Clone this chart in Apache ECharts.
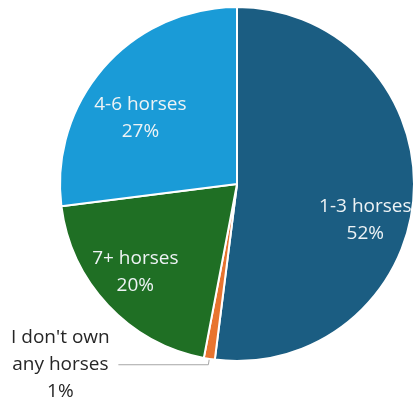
<!DOCTYPE html>
<html>
<head>
<meta charset="utf-8">
<script src="https://cdn.jsdelivr.net/npm/echarts@6/dist/echarts.min.js"></script>
<style>
html,body{margin:0;padding:0;background:#fff;}
#c{width:413px;height:404px;}
</style>
</head>
<body>
<div id="c"></div>
<script>
var categories = ['1-3 horses', "I don't own\nany horses", '7+ horses', '4-6 horses'];
var values = [52, 1, 20, 27];
var colors = ['#1b5d82', '#e8742f', '#1f6f24', '#1a9bd7'];

var insideOffsets = [[37, 30], null, [-35, 25], [-28, -5]];

var data = categories.map(function (name, i) {
  var item = { name: name, value: values[i], itemStyle: { color: colors[i] } };
  if (i === 1) {
    item.label = {
      show: true,
      position: 'outside',
      color: '#262626',
      formatter: function (p) {
        return p.name.split('\n').map(function (s) { return '{t|' + s + '}'; }).join('\n') + '\n{t|' + p.value + '%}';
      },
      rich: { t: { width: 106, align: 'center', fontSize: 19, lineHeight: 27, fontFamily: 'Open Sans', color: '#262626' } }
    };
    item.labelLine = { show: true, length: 6, length2: 90, lineStyle: { color: '#a6a6a6', width: 1 } };
  } else {
    item.label = { position: 'inside', offset: insideOffsets[i] };
  }
  return item;
});

var chart = echarts.init(document.getElementById('c'));
chart.setOption({
  animation: false,
  series: [{
    type: 'pie',
    center: [237, 184],
    radius: [0, 177],
    startAngle: 90,
    clockwise: true,
    avoidLabelOverlap: false,
    itemStyle: { borderColor: '#ffffff', borderWidth: 2 },
    label: {
      show: true,
      position: 'inside',
      formatter: '{b}\n{c}%',
      color: '#eef3f5',
      fontSize: 19,
      lineHeight: 27,
      fontFamily: 'Open Sans'
    },
    labelLine: { show: false },
    emphasis: { disabled: true },
    data: data
  }]
});
</script>
</body>
</html>
